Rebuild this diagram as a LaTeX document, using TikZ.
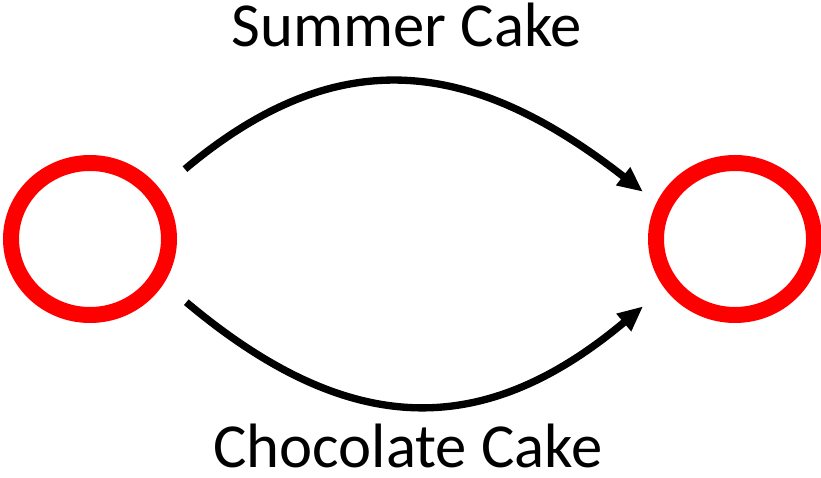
\documentclass[tikz,border=0pt]{standalone}
\usepackage{fontspec}
\setmainfont{Carlito}
\usetikzlibrary{arrows.meta,shapes.geometric}
\definecolor{ringred}{RGB}{255,0,0}
\tikzset{
  state/.style={draw=ringred,line width=12pt,ellipse,inner sep=0pt,
    minimum width=118.5pt,minimum height=114pt},
  trans/.style={line width=5.5pt,-{Triangle[length=19pt,width=16pt]}},
  cake/.style={anchor=base,font=\fontsize{47}{56}\selectfont}
}
\begin{document}
\begin{tikzpicture}[x=0.75pt,y=0.75pt]
  \useasboundingbox (0,0) rectangle (821,478);
  \node[state] (src) at (90,239) {};
  \node[state] (dst) at (735,239) {};
  % upper and lower transitions
  \draw[trans,shorten <=24pt,shorten >=13pt] (src.35) to[out=40,in=142,looseness=1.2] (dst.155);
  \draw[trans,shorten <=22pt,shorten >=21pt] (src.-31) to[out=-40,in=-140,looseness=1.22] (dst.-145);
  \node[cake] (summer) at (407,431) {Summer Cake};
  \node[cake] (choc) at (408,10) {Chocolate Cake};
\end{tikzpicture}
\end{document}
